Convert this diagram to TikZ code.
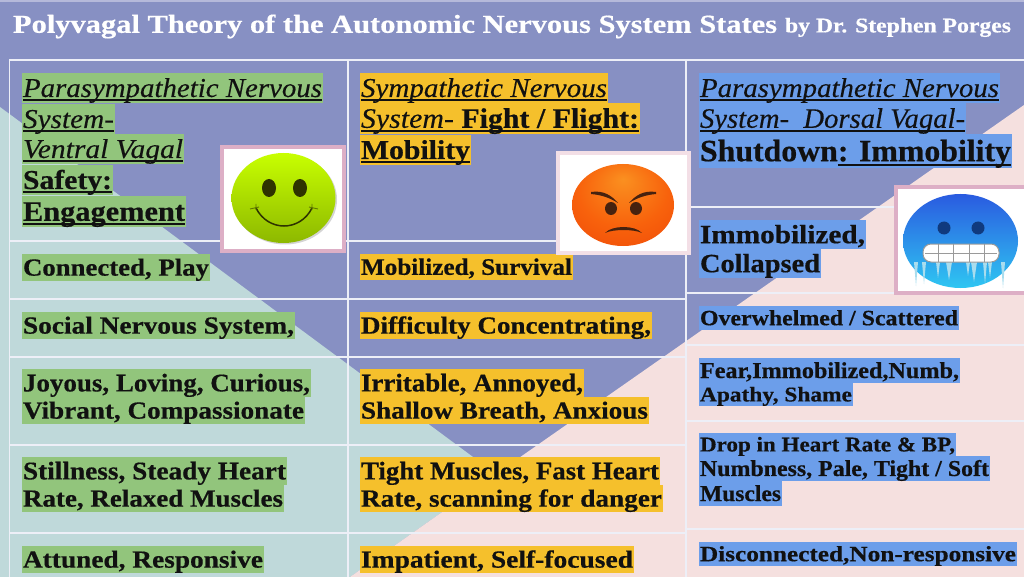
\documentclass[tikz,border=0pt]{standalone}
\usepackage{graphicx}
\usepackage{fontspec}
\setmainfont{Liberation Serif}[BoldFeatures={FakeBold=0.5},ItalicFeatures={FakeBold=0.25}]
\definecolor{bgpurple}{HTML}{8790C3}
\definecolor{topline}{HTML}{B5B9DA}
\definecolor{tealbg}{HTML}{BFD9DA}
\definecolor{pinkbg}{HTML}{F5E0DF}
\definecolor{rulecol}{HTML}{EDEFF7}
\definecolor{hlgreen}{HTML}{92C57C}
\definecolor{hlorange}{HTML}{F5C02C}
\definecolor{hlblue}{HTML}{6C9EEA}
\definecolor{framerose}{HTML}{DDAFC6}
\definecolor{framepale}{HTML}{F3DFE6}
\definecolor{inktext}{HTML}{111111}
\definecolor{limetop}{HTML}{C8FF00}
\definecolor{limemid}{HTML}{A9DE00}
\definecolor{limelow}{HTML}{8DB800}
\definecolor{limeink}{HTML}{2E3300}
\definecolor{angryhot}{HTML}{FA9020}
\definecolor{angrymid}{HTML}{F8620C}
\definecolor{angryrim}{HTML}{EA3C06}
\definecolor{angryink}{HTML}{46220F}
\definecolor{icetop}{HTML}{2A5BE0}
\definecolor{icemid}{HTML}{3F9BF2}
\definecolor{icelow}{HTML}{2FC6F2}
\definecolor{iceink}{HTML}{103A7E}
\definecolor{iceline}{HTML}{A9DDEE}
\definecolor{toothline}{HTML}{9A9A9A}
\pgfdeclareradialshading{angryball}{\pgfpoint{0bp}{16bp}}{color(0bp)=(angryhot);color(22bp)=(angrymid);color(50bp)=(angryrim)}
\newsavebox{\ulbox}
\newcommand{\ulx}[1]{\sbox{\ulbox}{#1}\rlap{\rule[-3.1pt]{\wd\ulbox}{1.5pt}}\usebox{\ulbox}}
\newcommand{\fit}[3]{\resizebox*{#1}{#2}{\fontsize{20}{24}\selectfont\rule[-4.4pt]{0pt}{22pt}#3}}
% name, colour, x1, x2, y1, y2, text
\newcommand{\hl}[7]{%
  \pgfmathsetlengthmacro\boxw{(#4-#3)*1pt}%
  \pgfmathsetlengthmacro\boxh{(#6-#5)*1pt}%
  \pgfmathsetlengthmacro\textw{(#4-#3-2)*1pt}%
  \node[linebox,fill=#2,minimum width=\boxw,minimum height=\boxh] (#1) at (#3,#5) {\fit{\textw}{\boxh}{#7}};%
}
\tikzset{
  x=1pt,y=-1pt,
  linebox/.style={anchor=north west,inner sep=0pt,outer sep=0pt,text=inktext,align=left},
  gridline/.style={draw=rulecol,line width=1.8pt},
  imgbox/.style={fill=white,line width=4pt},
  icicle/.style={fill=iceline},
}
\begin{document}
\begin{tikzpicture}
\useasboundingbox (0,0) rectangle (1024,577);
\fill[bgpurple] (0,0) rectangle (1024,577);
\fill[topline] (0,0) rectangle (1024,2);
\fill[tealbg] (0,107) -- (496,474) -- (350,577) -- (0,577) -- cycle;
\fill[pinkbg] (1024,105) -- (1024,577) -- (350,577) -- (496,474) -- cycle;
% grid
\draw[gridline] (9.5,577) -- (9.5,60) -- (1024,60);
\draw[gridline] (348,60) -- (348,577);
\draw[gridline] (686,60) -- (686,577);
\foreach \yy in {241,299,357,445,533} \draw[gridline] (9.5,\yy) -- (686,\yy);
\foreach \yy in {207,293,345,421,529} \draw[gridline] (686,\yy) -- (1024,\yy);
% title
\node[linebox,text=white] (title) at (13,10) {\fit{764pt}{28.5pt}{\bfseries Polyvagal Theory of the Autonomic Nervous System States}};
\node[linebox,text=white] (byline) at (785,14) {\fit{226pt}{23pt}{\bfseries by Dr. Stephen Porges}};
% column 1
\hl{a1}{hlgreen}{22}{323}{73}{103}{\itshape\ulx{Parasympathetic Nervous}}
\hl{a2}{hlgreen}{22}{115}{104}{134}{\itshape\ulx{System-}}
\hl{a3}{hlgreen}{22}{184}{134}{164}{\itshape\ulx{Ventral Vagal}}
\hl{a4}{hlgreen}{22}{113}{165}{195}{\bfseries\ulx{Safety:}}
\hl{a5}{hlgreen}{22}{186}{196}{227}{\bfseries\ulx{Engagement}}
\hl{a6}{hlgreen}{22}{210}{254}{281}{\bfseries Connected, Play}
\hl{a7}{hlgreen}{22}{295}{312}{339}{\bfseries Social Nervous System,}
\hl{a8}{hlgreen}{22}{311}{369}{397}{\bfseries Joyous, Loving, Curious,}
\hl{a9}{hlgreen}{22}{305}{397}{424}{\bfseries Vibrant, Compassionate}
\hl{a10}{hlgreen}{22}{287}{457}{485}{\bfseries Stillness, Steady Heart}
\hl{a11}{hlgreen}{22}{284}{485}{512}{\bfseries Rate, Relaxed Muscles}
\hl{a12}{hlgreen}{22}{264}{546}{573}{\bfseries Attuned, Responsive}
% column 2
\hl{b1}{hlorange}{360}{608}{73}{103}{\itshape\ulx{Sympathetic Nervous}}
\hl{b2}{hlorange}{360}{640}{103}{134}{\ulx{\textit{System-}\textbf{ Fight / Flight:}}}
\hl{b3}{hlorange}{360}{471}{135}{165}{\bfseries\ulx{Mobility}}
\hl{b4}{hlorange}{360}{573}{254}{280}{\bfseries Mobilized, Survival}
\hl{b5}{hlorange}{360}{652}{312}{339}{\bfseries Difficulty Concentrating,}
\hl{b6}{hlorange}{360}{584}{369}{397}{\bfseries Irritable, Annoyed,}
\hl{b7}{hlorange}{360}{649}{397}{424}{\bfseries Shallow Breath, Anxious}
\hl{b8}{hlorange}{360}{660}{457}{485}{\bfseries Tight Muscles, Fast Heart}
\hl{b9}{hlorange}{360}{663}{485}{512}{\bfseries Rate, scanning for danger}
\hl{b10}{hlorange}{360}{634}{546}{573}{\bfseries Impatient, Self-focused}
% column 3
\hl{c1}{hlblue}{699}{1000}{73}{103}{\itshape\ulx{Parasympathetic Nervous}}
\hl{c2}{hlblue}{699}{966}{103}{134}{\itshape\ulx{System-\ \ Dorsal Vagal-}}
\hl{c3}{hlblue}{699}{1012}{134}{168}{\bfseries Shutdown\ulx{: Immobility}}
\hl{c4}{hlblue}{699}{866}{220}{249}{\bfseries Immobilized,}
\hl{c5}{hlblue}{699}{821}{249}{278}{\bfseries Collapsed}
\hl{c6}{hlblue}{699}{959}{306}{330}{\bfseries Overwhelmed / Scattered}
\hl{c7}{hlblue}{699}{960}{358}{383}{\bfseries Fear,Immobilized,Numb,}
\hl{c8}{hlblue}{699}{853}{383}{406}{\bfseries Apathy, Shame}
\hl{c9}{hlblue}{699}{956}{433}{456}{\bfseries Drop in Heart Rate \& BP,}
\hl{c10}{hlblue}{699}{990}{456}{481}{\bfseries Numbness, Pale, Tight / Soft}
\hl{c11}{hlblue}{699}{782}{481}{506}{\bfseries Muscles}
\hl{c12}{hlblue}{699}{1017}{542}{566}{\bfseries Disconnected,Non-responsive}
% smiley
\draw[imgbox,draw=framerose] (222,147) rectangle (344,251);
\fill[black!30,opacity=.55] (285,199.5) ellipse [x radius=52,y radius=45];
\shade[top color=limetop,middle color=limemid,bottom color=limelow] (283.5,198) ellipse [x radius=52,y radius=45];
\fill[limeink] (269,188) ellipse [x radius=7,y radius=9];
\fill[limeink] (300,188) ellipse [x radius=7,y radius=9];
\draw[limeink,line width=1.5pt,line cap=round] (256,208) .. controls (268,232) and (300,232) .. (312,208);
\draw[limeink!60!limemid,line width=.9pt] (250,209) -- (259,207) (309,207) -- (318,209) (256,204) -- (256,210) (312,204) -- (312,210);
% angry
\draw[imgbox,draw=framepale] (558,153) rectangle (689,253);
\shade[shading=angryball] (623,205) ellipse [x radius=51,y radius=41];
\fill[angryink] (611,208.5) ellipse [x radius=6,y radius=6.5];
\fill[angryink] (636,208.5) ellipse [x radius=6,y radius=6.5];
\fill[angryink] (591,192) .. controls (604,190) and (612,196) .. (618,203) .. controls (610,198) and (602,195) .. (591,194) -- cycle;
\fill[angryink] (656,192) .. controls (643,190) and (635,196) .. (629,203) .. controls (637,198) and (645,195) .. (656,194) -- cycle;
\fill[angryink] (605,233) .. controls (612,225) and (635,225) .. (642,233) .. controls (634,229) and (613,229) .. (605,233) -- cycle;
% frozen
\draw[imgbox,draw=framerose] (896,187) rectangle (1030,293);
\shade[top color=icetop,middle color=icemid,bottom color=icelow] (960.5,241) ellipse [x radius=57.5,y radius=47];
\fill[iceink] (944,228) circle (6.5);
\fill[iceink] (978,228) circle (6.5);
\foreach \ix/\iw/\il in {916/2/24,924/2/22,938/2/16,949/3/18,968/2/14,974/3/20,985/2/22,990/2/16,1003/2/26}
  \fill[icicle] (\ix-\iw,262) -- (\ix+\iw,262) -- (\ix,262+\il) -- cycle;
\fill[white,draw=toothline,line width=1pt,rounded corners=8pt] (923,244) rectangle (999,262);
\draw[toothline,line width=.7pt] (925,253) -- (997,253) (938,244) -- (938,262) (953,244) -- (953,262) (969,244) -- (969,262) (984,244) -- (984,262);
\end{tikzpicture}
\end{document}
